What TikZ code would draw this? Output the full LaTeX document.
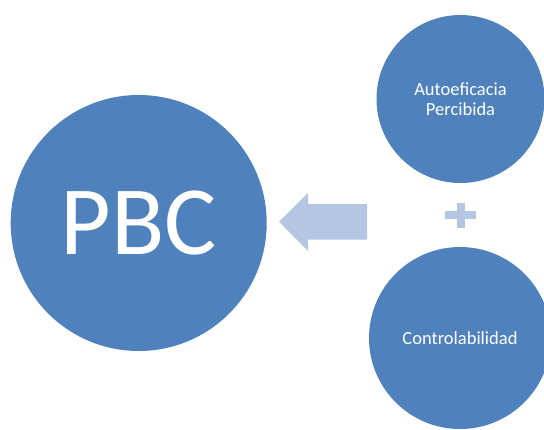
\documentclass[tikz,border=0pt]{standalone}
\usepackage{fontspec}
\setmainfont{Carlito}
\definecolor{circblue}{RGB}{79,129,189}
\definecolor{paleblue}{RGB}{180,198,225}
\begin{document}
\begin{tikzpicture}[x=1pt,y=1pt,
  bubble/.style={circle, fill=circblue, inner sep=0pt, text=white, align=center},
  pale/.style={fill=paleblue, draw=none}]
\useasboundingbox (0,0) rectangle (544,-429);
% main construct
\node[bubble, minimum size=256, font=\fontsize{98}{110}\selectfont] (pbc) at (138.7,-223) {PBC};
% components
\node[bubble, minimum size=168, font=\fontsize{18.5}{19.5}\selectfont] (auto) at (460.5,-99) {Autoeficacia\\Percibida};
\node[bubble, minimum size=182, font=\fontsize{18.5}{19.5}\selectfont] (ctrl) at (460,-338) {Controlabilidad};
% block arrow pointing to PBC
\fill[pale] (279,-221.7) -- (308,-193) -- (308,-204) -- (367,-204) -- (367,-239.5)
  -- (308,-239.5) -- (308,-251) -- cycle;
% plus sign
\coordinate (plus) at (460.5,-215);
\fill[pale] ([xshift=-15.5,yshift=-4]plus) rectangle ([xshift=15.5,yshift=4]plus);
\fill[pale] ([xshift=-4,yshift=-12.5]plus) rectangle ([xshift=4,yshift=12.5]plus);
\end{tikzpicture}
\end{document}
